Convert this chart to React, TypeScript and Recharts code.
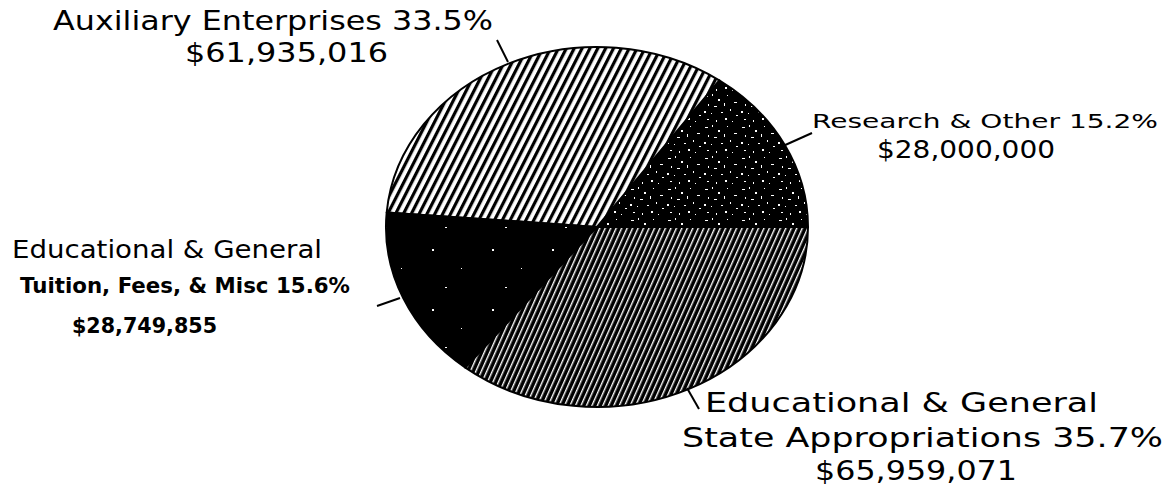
import React from 'react';
import { PieChart, Pie, Cell } from 'recharts';

// ---- data ----
const categories = ['Research & Other', 'Auxiliary Enterprises', 'Tuition, Fees, & Misc', 'State Appropriations'];
const groupHeaders = ['', '', 'Educational & General', 'Educational & General'];
const amounts = [28000000, 61935016, 28749855, 65959071];
const fills = ['url(#speckle)', 'url(#hatchLight)', 'url(#solidDark)', 'url(#hatchDense)'];

const data = categories.map((name, i) => ({ name, value: amounts[i] }));

// ---- layout ----
const W = 1176;
const H = 498;
const CX = 597;
const CY = 227;
const RY = 180;
const RX_RATIO = 211 / 180;
const FONT = '"DejaVu Sans", "Liberation Sans", sans-serif';

type Row = { x: number; y: number; w: number; size: number; bold?: boolean };
const LABEL_LAYOUT: { line: number[]; rows: Row[] }[] = [
  {
    line: [783, 146, 812, 133],
    rows: [
      { x: 812, y: 128, w: 346, size: 19 },
      { x: 877, y: 158, w: 178, size: 24 },
    ],
  },
  {
    line: [497, 40, 508, 62],
    rows: [
      { x: 53, y: 30, w: 440, size: 27 },
      { x: 185, y: 62, w: 203, size: 27 },
    ],
  },
  {
    line: [377, 306, 400, 298],
    rows: [
      { x: 12, y: 258, w: 310, size: 24 },
      { x: 20, y: 293, w: 330, size: 22, bold: true },
      { x: 72, y: 333, w: 145, size: 21, bold: true },
    ],
  },
  {
    line: [687, 388, 699, 409],
    rows: [
      { x: 705, y: 412, w: 393, size: 26 },
      { x: 682, y: 447, w: 481, size: 27 },
      { x: 815, y: 480, w: 202, size: 27 },
    ],
  },
];

const fmtMoney = (v: number) => '$' + v.toLocaleString('en-US');

const EllipseSector = (props: any) => {
  const { cx, cy, outerRadius, startAngle, endAngle, fill } = props;
  const ry = outerRadius;
  const rx = outerRadius * RX_RATIO;
  const rad = Math.PI / 180;
  const x1 = cx + rx * Math.cos(startAngle * rad);
  const y1 = cy - ry * Math.sin(startAngle * rad);
  const x2 = cx + rx * Math.cos(endAngle * rad);
  const y2 = cy - ry * Math.sin(endAngle * rad);
  const large = Math.abs(endAngle - startAngle) > 180 ? 1 : 0;
  const sweep = endAngle > startAngle ? 0 : 1;
  const d = `M${cx},${cy} L${x1},${y1} A${rx},${ry} 0 ${large} ${sweep} ${x2},${y2} Z`;
  return <path d={d} fill={fill} stroke="#000" strokeWidth={2} strokeLinejoin="round" />;
};

const renderLabel = (props: any) => {
  const { index, percent, value, name } = props;
  const layout = LABEL_LAYOUT[index];
  if (!layout) return null;
  const pct = `${(percent * 100).toFixed(1)}%`;
  const texts: string[] = [];
  if (groupHeaders[index]) texts.push(groupHeaders[index]);
  texts.push(`${name} ${pct}`);
  texts.push(fmtMoney(value));
  const [lx1, ly1, lx2, ly2] = layout.line;
  return (
    <g key={`lbl-${index}`}>
      <line x1={lx1} y1={ly1} x2={lx2} y2={ly2} stroke="#000" strokeWidth={2} />
      {layout.rows.map((r, i) => (
        <text
          key={i}
          x={r.x}
          y={r.y}
          textLength={r.w}
          lengthAdjust="spacingAndGlyphs"
          fontFamily={FONT}
          fontSize={r.size}
          fontWeight={r.bold ? 700 : 400}
          fill="#000"
          textAnchor="start"
        >
          {texts[i]}
        </text>
      ))}
    </g>
  );
};

export default function App() {
  return (
    <div style={{ position: 'absolute', left: 0, top: 0, width: W, height: H, background: '#fff' }}>
      <PieChart width={W} height={H} margin={{ top: 0, right: 0, bottom: 0, left: 0 }}>
        <defs>
          <pattern id="hatchLight" patternUnits="userSpaceOnUse" width="7" height="14" patternTransform="rotate(27)">
            <rect x="0" y="0" width="7" height="14" fill="#fff" />
            <rect x="0" y="0" width="3.2" height="14" fill="#000" />
          </pattern>
          <pattern id="hatchDense" patternUnits="userSpaceOnUse" width="5" height="10" patternTransform="rotate(24)">
            <rect x="0" y="0" width="5" height="10" fill="#000" />
            <rect x="0" y="0" width="1.4" height="10" fill="#fff" />
          </pattern>
          <pattern id="speckle" patternUnits="userSpaceOnUse" width="37" height="31">
            <rect x="0" y="0" width="37" height="31" fill="#000" />
            <rect x="2" y="3" width="3" height="1" fill="#fff" />
            <rect x="9" y="1" width="1" height="2" fill="#fff" />
            <rect x="15" y="6" width="2" height="2" fill="#fff" />
            <rect x="24" y="2" width="1" height="1" fill="#fff" />
            <rect x="31" y="9" width="3" height="1" fill="#fff" />
            <rect x="5" y="11" width="1" height="2" fill="#fff" />
            <rect x="11" y="13" width="3" height="1" fill="#fff" />
            <rect x="21" y="10" width="1" height="3" fill="#fff" />
            <rect x="1" y="18" width="2" height="2" fill="#fff" />
            <rect x="8" y="20" width="1" height="1" fill="#fff" />
            <rect x="18" y="19" width="2" height="1" fill="#fff" />
            <rect x="27" y="16" width="1" height="2" fill="#fff" />
            <rect x="33" y="22" width="2" height="1" fill="#fff" />
            <rect x="4" y="26" width="2" height="1" fill="#fff" />
            <rect x="13" y="27" width="1" height="2" fill="#fff" />
            <rect x="22" y="25" width="2" height="2" fill="#fff" />
            <rect x="29" y="28" width="1" height="1" fill="#fff" />
          </pattern>
          <pattern id="solidDark" patternUnits="userSpaceOnUse" width="60" height="60">
            <rect x="0" y="0" width="60" height="60" fill="#000" />
            <rect x="12" y="9" width="2" height="2" fill="#fff" />
            <rect x="41" y="28" width="1" height="1" fill="#fff" />
            <rect x="25" y="47" width="2" height="1" fill="#fff" />
          </pattern>
        </defs>
        <Pie
          data={data}
          dataKey="value"
          nameKey="name"
          cx={CX}
          cy={CY}
          outerRadius={RY}
          startAngle={0}
          endAngle={360}
          isAnimationActive={false}
          shape={EllipseSector}
          activeShape={EllipseSector}
          inactiveShape={EllipseSector}
          label={renderLabel}
          labelLine={false}
        >
          {data.map((d, i) => (
            <Cell key={d.name} fill={fills[i]} />
          ))}
        </Pie>
      </PieChart>
    </div>
  );
}
